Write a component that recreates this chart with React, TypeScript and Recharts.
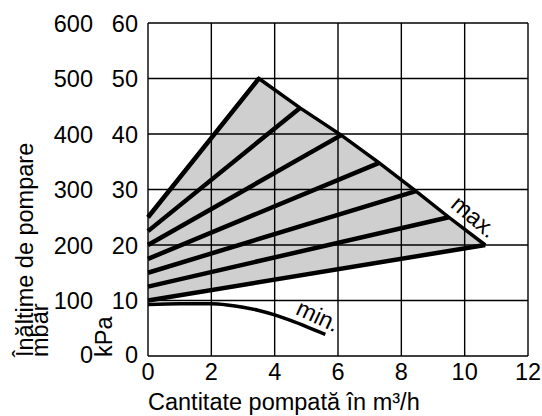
import React from 'react'
import {
  ComposedChart,
  Area,
  Line,
  XAxis,
  YAxis,
  CartesianGrid,
  ReferenceDot,
} from 'recharts'

const FONT = '"Liberation Sans", Arial, sans-serif'

// axes
const X_TICKS = [0, 2, 4, 6, 8, 10, 12]
const KPA_TICKS = [0, 10, 20, 30, 40, 50, 60]
const MBAR_LABELS = ['0', '100', '200', '300', '400', '500', '600']

// pump curves (kPa vs m³/h)
const FAN_START = [25, 22.5, 20, 17.5, 15, 12.5, 10]
const MAX_X = [3.5, 4.8, 6.1, 7.3, 8.46, 9.5, 10.65]
const MAX_Y = [50, 44.7, 39.8, 34.8, 29.7, 25, 20]
const LOW_Y = [13.3, 14.5, 15.7, 16.9, 17.9, 18.9, 20]

const MIN_X = [0, 1, 2, 2.5, 3, 3.5, 4, 4.5, 5, 5.6]
const MIN_Y = [9.3, 9.4, 9.4, 9.2, 8.8, 8.2, 7.4, 6.4, 5.3, 3.9]

const areaData = [
  { x: 0, range: [FAN_START[6], FAN_START[0]] },
  ...MAX_X.map((x, i) => ({ x, range: [LOW_Y[i], MAX_Y[i]] })),
]
const outline = [{ x: 0, y: FAN_START[0] }, ...MAX_X.map((x, i) => ({ x, y: MAX_Y[i] }))]
const fans = FAN_START.map((s, i) => [
  { x: 0, y: s },
  { x: MAX_X[i], y: MAX_Y[i] },
])
const minCurve = MIN_X.map((x, i) => ({ x, y: MIN_Y[i] }))

const txt = { fontFamily: FONT, fontSize: 23.5, fill: '#000' }

const XTick = ({ x, payload }: any) => (
  <text x={x} y={380} textAnchor="middle" {...txt}>
    {payload.value}
  </text>
)

const YTick = ({ y, payload }: any) => {
  const v = payload.value
  const dy = v === 0 ? 6.5 : 8.5
  return (
    <g>
      <text x={93} y={y + dy} textAnchor="end" {...txt}>
        {MBAR_LABELS[KPA_TICKS.indexOf(v)]}
      </text>
      <text x={138} y={y + dy} textAnchor="end" {...txt}>
        {v}
      </text>
    </g>
  )
}

const rotatedLabel = (text: string, angle: number) => (props: any) => {
  const vb = props.viewBox
  const cx = vb.x + vb.width / 2
  const cy = vb.y + vb.height / 2
  return (
    <text x={cx} y={cy} textAnchor="middle" transform={`rotate(${angle} ${cx} ${cy})`} {...txt}>
      {text}
    </text>
  )
}

export default function App() {
  return (
    <div style={{ position: 'absolute', left: 0, top: 0, width: 542, height: 416, background: '#fff' }}>
      <ComposedChart
        width={542}
        height={416}
        data={areaData}
        margin={{ top: 23, right: 14, bottom: 0, left: 0 }}
      >
        <CartesianGrid stroke="#000" strokeWidth={1.4} />
        <XAxis
          dataKey="x"
          type="number"
          domain={[0, 12]}
          ticks={X_TICKS}
          height={60}
          axisLine={false}
          tickLine={false}
          tick={<XTick />}
          label={{
            content: () => (
              <text x={148} y={410} {...txt}>
                Cantitate pompată în m³/h
              </text>
            ),
          }}
        />
        <YAxis
          type="number"
          domain={[0, 60]}
          ticks={KPA_TICKS}
          width={148}
          axisLine={false}
          tickLine={false}
          tick={<YTick />}
          label={{
            content: () => (
              <g>
                <text x={33} y={357} transform="rotate(-90 33 357)" {...txt}>
                  Înălțime de pompare
                </text>
                <text x={48} y={357} transform="rotate(-90 48 357)" {...txt}>
                  mbar
                </text>
                <text x={112} y={357} transform="rotate(-90 112 357)" {...txt}>
                  kPa
                </text>
              </g>
            ),
          }}
        />
        <Area
          dataKey="range"
          type="linear"
          stroke="none"
          fill="#000"
          fillOpacity={0.19}
          isAnimationActive={false}
        />
        {fans.map((d, i) => (
          <Line
            key={`fan-${i}`}
            data={d}
            dataKey="y"
            type="linear"
            stroke="#000"
            strokeWidth={4.5}
            dot={false}
            activeDot={false}
            isAnimationActive={false}
          />
        ))}
        <Line
          data={outline}
          dataKey="y"
          type="linear"
          stroke="#000"
          strokeWidth={3.5}
          strokeLinejoin="miter"
          dot={false}
          activeDot={false}
          isAnimationActive={false}
        />
        <Line
          data={minCurve}
          dataKey="y"
          type="monotone"
          stroke="#000"
          strokeWidth={3.5}
          dot={false}
          activeDot={false}
          isAnimationActive={false}
        />
        <ReferenceDot
          x={10.14}
          y={24}
          r={1}
          fill="none"
          stroke="none"
          label={{ content: rotatedLabel('max.', 40) }}
        />
        <ReferenceDot
          x={5.26}
          y={5.9}
          r={1}
          fill="none"
          stroke="none"
          label={{ content: rotatedLabel('min.', 25) }}
        />
      </ComposedChart>
    </div>
  )
}
